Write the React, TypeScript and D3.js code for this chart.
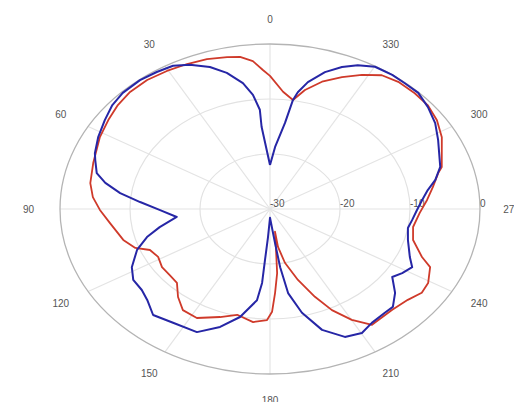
import React from "react";
import * as d3 from "d3";

// Angle labels (deg, counter-clockwise from top)
const angleTicks = [0, 30, 60, 90, 120, 150, 180, 210, 240, 270, 300, 330];
const radialTicks = [-30, -20, -10, 0];

// Blue series
const blueAngle = [0, 4.6, 4.6, 6.7, 9.6, 14.0, 18.4, 23.6, 28.0, 33.0, 38.4, 44.9, 50.0, 55.6, 62.0, 67.9, 70.4, 75.2, 78.6, 82.3, 86.1, 90.7, 96.2, 101.8, 106.2, 111.4, 118.2, 123.4, 128.8, 133.3, 139.1, 146.2, 155.0, 161.6, 167.7, 173.6, 175.2, 175.6, 176.8, 180, 186.6, 187.8, 189.6, 193.6, 198.7, 204.7, 210.2, 215.1, 221.0, 224.6, 229.5, 234.7, 238.3, 242.5, 246.4, 254.0, 260.1, 264.3, 269.5, 274.3, 278.7, 282.6, 287.5, 297.6, 303.5, 309.4, 314.9, 319.9, 324.4, 329.9, 334.4, 338.3, 342.5, 346.8, 349.4, 350.6, 352.2, 356.3, 360];
const blueDb = [-22.0, -15.0, -11.9, -9.1, -6.8, -4.5, -2.8, -1.4, -0.5, -0.3, -0.1, -0.2, -0.6, -1.4, -2.2, -3.0, -3.5, -4.4, -6.0, -8.4, -11.4, -14.3, -16.6, -13.9, -11.7, -9.6, -7.6, -6.6, -6.5, -5.9, -4.5, -5.1, -5.3, -7.4, -9.9, -13.3, -16.5, -20.7, -24.9, -28.4, -23.8, -19.3, -14.5, -10.6, -6.8, -4.4, -3.9, -4.7, -5.0, -5.0, -6.5, -8.6, -7.8, -7.1, -8.2, -9.5, -10.0, -9.6, -9.0, -8.2, -7.2, -5.8, -4.5, -2.9, -1.7, -0.8, -0.1, -0.1, 0, -0.1, -1.0, -2.2, -3.9, -6.3, -8.4, -9.9, -14.2, -18.7, -22.0];

// Red series
const redAngle = [0, 2.3, 5.2, 8.8, 12.5, 18.3, 24.2, 30.4, 36.8, 43.2, 49.0, 55.0, 61.7, 71.7, 79.6, 85.1, 90.4, 96.4, 105.0, 110.2, 113.5, 118.6, 124.4, 130.0, 135.3, 140.6, 145.9, 152.2, 160.0, 166.3, 173.3, 178.8, 180.9, 182.7, 185.0, 186.6, 189.8, 189.4, 192.3, 197.2, 201.9, 205.7, 210.1, 214.7, 223.5, 230.0, 234.9, 239.2, 245.2, 248.1, 254.6, 260.9, 268.1, 274.2, 279.7, 285.2, 287.3, 298.0, 304.1, 310.0, 315.5, 321.6, 326.7, 331.7, 336.8, 342.2, 347.0, 350.6, 355.0, 360];
const redDb = [-5.8, -4.7, -3.0, -2.0, -1.7, -1.3, -1.1, -0.9, -0.7, -0.8, -1.2, -1.8, -2.4, -3.4, -3.9, -4.6, -5.7, -7.0, -8.3, -9.5, -11.3, -11.8, -11.3, -11.3, -11.1, -9.3, -7.8, -7.6, -9.1, -10.2, -9.3, -9.8, -11.3, -14.7, -18.3, -22.5, -25.8, -23.0, -20.0, -16.5, -12.8, -9.6, -6.7, -4.4, -4.7, -4.3, -3.5, -3.7, -4.8, -6.6, -8.8, -9.3, -8.6, -7.5, -6.4, -5.1, -4.3, -2.2, -1.2, -0.6, -0.5, -0.5, -0.9, -2.3, -3.9, -5.7, -7.8, -9.9, -8.6, -5.8];

const W = 514;
const H = 402;
const cx = 270;
const cy = 209;
const rx = 210;
const ry = 165;

const rScale = d3.scaleLinear().domain([-30, 0]).range([0, 1]).clamp(true);
const aScale = d3.scaleLinear().domain([0, 360]).range([0, 2 * Math.PI]);

function pt(angle: number, db: number): [number, number] {
  const r = rScale(db);
  const a = aScale(angle);
  return [cx - r * rx * Math.sin(a), cy - r * ry * Math.cos(a)];
}

const line = d3
  .line<[number, number]>()
  .x((d) => pt(d[0], d[1])[0])
  .y((d) => pt(d[0], d[1])[1])
  .curve(d3.curveLinear);

export default function App() {
  const blue: [number, number][] = blueAngle.map((a, i) => [a, blueDb[i]]);
  const red: [number, number][] = redAngle.map((a, i) => [a, redDb[i]]);
  const font = "'Liberation Sans', Arial, sans-serif";
  return (
    <svg
      width={W}
      height={H}
      style={{ position: "absolute", left: 0, top: 0, background: "#fff" }}
    >
      {/* spokes */}
      {angleTicks.map((a) => {
        const [x, y] = pt(a, 0);
        return (
          <line key={"s" + a} x1={cx} y1={cy} x2={x} y2={y} stroke="#e4e4e4" strokeWidth={1.2} />
        );
      })}
      {/* rings */}
      {radialTicks
        .filter((t) => t > -30)
        .map((t) => (
          <ellipse
            key={"r" + t}
            cx={cx}
            cy={cy}
            rx={rScale(t) * rx}
            ry={rScale(t) * ry}
            fill="none"
            stroke={t === 0 ? "#b4b4b4" : "#e2e2e2"}
            strokeWidth={t === 0 ? 1.3 : 1.2}
          />
        ))}
      {/* angle labels */}
      {angleTicks.map((a) => {
        const r = aScale(a);
        const k = a === 180 ? 1.16 : 1.15;
        const x = cx - k * rx * Math.sin(r);
        const y = cy - k * ry * Math.cos(r);
        return (
          <text
            key={"al" + a}
            x={x}
            y={y}
            textAnchor="middle"
            dominantBaseline="central"
            fontFamily={font}
            fontSize={10}
            fill="#555"
          >
            {a}
          </text>
        );
      })}
      {/* radial labels */}
      {radialTicks.map((t) => (
        <text
          key={"rl" + t}
          x={cx + rScale(t) * rx}
          y={cy - 6}
          textAnchor="start"
          dominantBaseline="central"
          fontFamily={font}
          fontSize={10}
          fill="#555"
        >
          {t}
        </text>
      ))}
      <path d={line(red) || ""} fill="none" stroke="#cf3a2a" strokeWidth={1.8} strokeLinejoin="round" />
      <path d={line(blue) || ""} fill="none" stroke="#2626a6" strokeWidth={2} strokeLinejoin="round" />
    </svg>
  );
}
